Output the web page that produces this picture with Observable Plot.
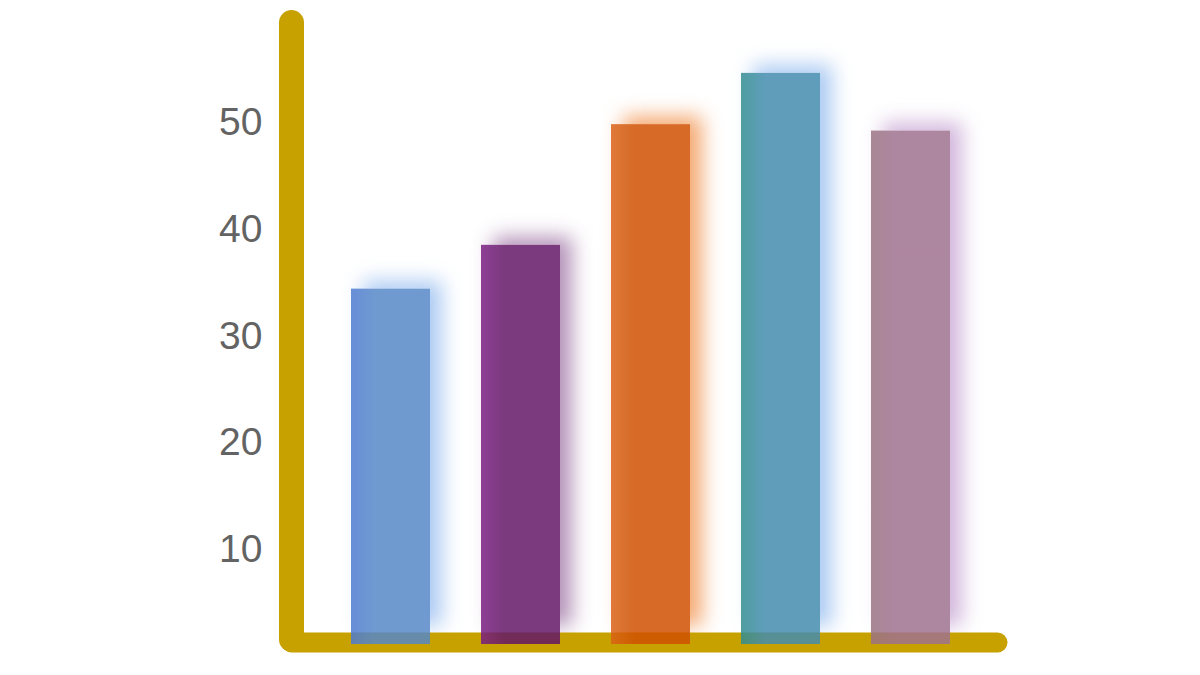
<!DOCTYPE html>
<html><head><meta charset="utf-8">
<script src="https://cdn.jsdelivr.net/npm/d3@7"></script>
<script src="https://cdn.jsdelivr.net/npm/@observablehq/plot@0.6"></script>
<style>html,body{margin:0;padding:0;background:#fff;} #chart svg{display:block;}</style>
</head><body><div id="chart"></div>
<script>
const categories = ["A", "B", "C", "D", "E"];
const values = [34.4, 38.5, 49.8, 54.6, 49.2];
const barColors = ["#5688c8", "#631767", "#cf5000", "#438caf", "#9f718f"];
const edgeColors = ["#4d7ad1", "#7a1d82", "#da6217", "#318d8f", "#9a7381"];
const glowColors = ["#a9c8f2", "#b08cb4", "#f3a46a", "#a8c8f2", "#d0b2da"];
const yTicks = [10, 20, 30, 40, 50];

const data = categories.map((c, i) => ({
  category: c, value: values[i], grad: `url(#bar-grad-${i})`, glow: glowColors[i]
}));

const gold = "#c6a100";
const chart = Plot.plot({
  width: 1200, height: 675,
  marginLeft: 291, marginRight: 203, marginTop: 22, marginBottom: 33,
  style: {background: "#fff", fontFamily: "'Liberation Sans', Arial, sans-serif", fontSize: "39px"},
  x: {domain: categories, range: [299.5, 1002.5], padding: 0.39, axis: null},
  y: {domain: [0, 60], range: [656, 15.2], label: null},
  color: {type: "identity"},
  marks: [
    Plot.barY(data, {x: "category", y: "value", fill: "glow", dx: 12, dy: -8, insetBottom: 22, fillOpacity: 0.95, imageFilter: "blur(10px)"}),
    Plot.frame({anchor: "left", stroke: gold, strokeWidth: 25, strokeLinecap: "round", insetBottom: 3}),
    Plot.frame({anchor: "bottom", stroke: gold, strokeWidth: 20, strokeLinecap: "round"}),
    Plot.barY(data, {x: "category", y: "value", fill: "white", insetBottom: 24}),
    Plot.barY(data, {x: "category", y: "value", fill: "grad", insetBottom: 12, fillOpacity: 0.85}),
    Plot.axisY(yTicks, {tickSize: 0, tickPadding: 29, fill: "#636363", fontSize: 39, label: null})
  ]
});

const defs = d3.select(chart).insert("defs", ":first-child");
barColors.forEach((col, i) => {
  const g = defs.append("linearGradient").attr("id", `bar-grad-${i}`)
    .attr("x1", "0").attr("x2", "1").attr("y1", "0").attr("y2", "0");
  g.append("stop").attr("offset", "0").attr("stop-color", edgeColors[i]);
  g.append("stop").attr("offset", "0.3").attr("stop-color", col);
  g.append("stop").attr("offset", "1").attr("stop-color", col);
});

document.getElementById("chart").appendChild(chart);
</script>
</body></html>
